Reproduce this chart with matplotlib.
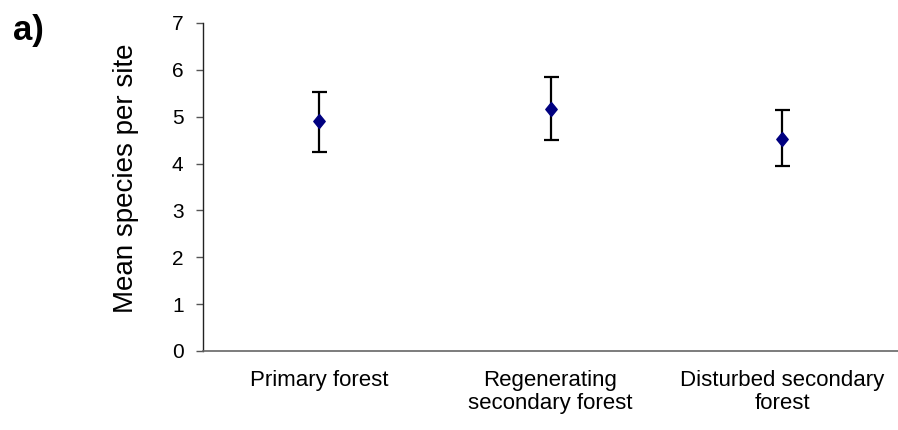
import matplotlib
matplotlib.use("Agg")
import matplotlib.pyplot as plt
from matplotlib.path import Path

plt.rcParams['font.family'] = ['Liberation Sans', 'DejaVu Sans']

categories = ["Primary forest", "Regenerating\nsecondary forest", "Disturbed secondary\nforest"]
means = [4.91, 5.16, 4.52]
upper = [5.53, 5.84, 5.15]
lower = [4.25, 4.50, 3.94]
yticks = [0, 1, 2, 3, 4, 5, 6, 7]

err_low = [m - lo for m, lo in zip(means, lower)]
err_high = [hi - m for m, hi in zip(means, upper)]

# Slightly elongated diamond marker
diamond = Path([(0, 1), (0.82, 0), (0, -1), (-0.82, 0), (0, 1)],
               [Path.MOVETO, Path.LINETO, Path.LINETO, Path.LINETO, Path.CLOSEPOLY])

fig = plt.figure(figsize=(8.98, 4.30), dpi=100)
ax = fig.add_axes([203 / 898, 1 - 351 / 430, 1 - 203 / 898, (351 - 23) / 430])

x = list(range(len(categories)))
ax.errorbar(x, means, yerr=[err_low, err_high], fmt='none', ecolor='black',
            elinewidth=1.6, capsize=5.4, capthick=1.6, zorder=2)
ax.plot(x, means, linestyle='none', marker=diamond, markersize=10,
        color='#000080', markeredgecolor='#000080', zorder=3)

ax.set_xlim(-0.5, len(categories) - 0.5)
ax.set_ylim(0, 7)
ax.set_yticks(yticks)
ax.set_yticklabels([str(t) for t in yticks], fontsize=15)
ax.set_xticks(x)
ax.set_xticklabels(categories, fontsize=16, linespacing=1.1)
ax.tick_params(axis='x', length=0, pad=14)
ax.tick_params(axis='y', direction='out', length=5, width=1, color='#555555', pad=9)

for side in ('top', 'right'):
    ax.spines[side].set_visible(False)
ax.spines['left'].set_color('#222222')
ax.spines['bottom'].set_color('#666666')
ax.spines['left'].set_linewidth(1)
ax.spines['bottom'].set_linewidth(1.2)

fig.text(126 / 898, 1 - 178 / 430, "Mean species per site", rotation=90,
         ha='center', va='center', fontsize=20)
fig.text(13 / 898, 1 - 40 / 430, "a)", fontsize=25, fontweight='bold',
         ha='left', va='baseline')

fig.savefig("out.png", dpi=100, facecolor='white')
